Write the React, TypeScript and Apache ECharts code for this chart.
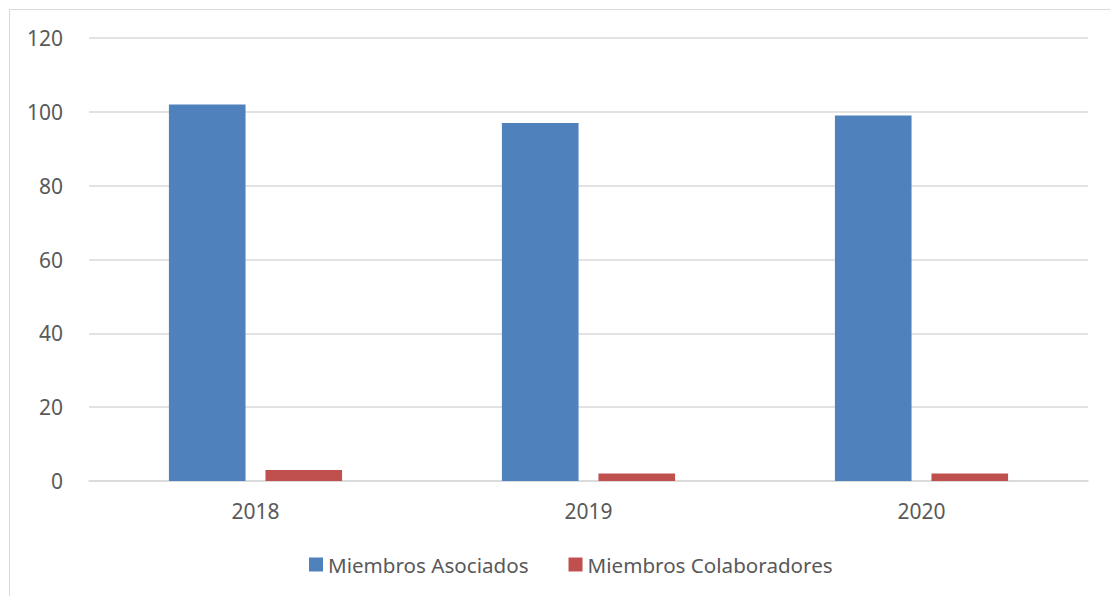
import React, { useEffect, useRef } from "react";
import * as echarts from "echarts";

const categories = ["2018", "2019", "2020"];
const asociados = [102, 97, 99];
const colaboradores = [3, 2, 2];
const seriesNames = ["Miembros Asociados", "Miembros Colaboradores"];

export default function App() {
  const ref = useRef<HTMLDivElement>(null);
  useEffect(() => {
    if (!ref.current) return;
    const chart = echarts.init(ref.current, undefined, { renderer: "svg" });
    const font = "Noto Sans";
    chart.setOption({
      animation: false,
      textStyle: { fontFamily: font },
      graphic: [
        {
          type: "rect",
          shape: { x: 1.5, y: 1.5, width: 1300, height: 1000 },
          style: { fill: "none", stroke: "#D9D9D9", lineWidth: 1 },
          silent: true,
        },
      ],
      grid: { left: 81, right: 30, top: 30, bottom: 115, containLabel: false },
      legend: {
        data: seriesNames,
        top: 541,
        left: 296,
        itemWidth: 14,
        itemHeight: 14,
        itemGap: 40,
        icon: "rect",
        textStyle: { color: "#595959", fontSize: 20.6, fontFamily: font },
      },
      xAxis: {
        type: "category",
        data: categories,
        axisLine: { lineStyle: { color: "#D9D9D9", width: 1.5 } },
        axisTick: { show: false },
        axisLabel: { color: "#595959", fontSize: 21, margin: 19, fontFamily: font },
      },
      yAxis: {
        type: "value",
        min: 0,
        max: 120,
        interval: 20,
        axisLine: { show: false },
        axisTick: { show: false },
        splitLine: { lineStyle: { color: "#D9D9D9", width: 1.5 } },
        axisLabel: { color: "#595959", fontSize: 21, margin: 26, fontFamily: font },
      },
      series: [
        {
          name: seriesNames[0],
          type: "bar",
          data: asociados,
          itemStyle: { color: "#4F81BD" },
          barGap: "26%",
          barCategoryGap: "48%",
        },
        {
          name: seriesNames[1],
          type: "bar",
          data: colaboradores,
          itemStyle: { color: "#C0504D" },
          barGap: "26%",
          barCategoryGap: "48%",
        },
      ],
    });
    return () => chart.dispose();
  }, []);
  return <div ref={ref} style={{ width: 1110, height: 588 }} />;
}
